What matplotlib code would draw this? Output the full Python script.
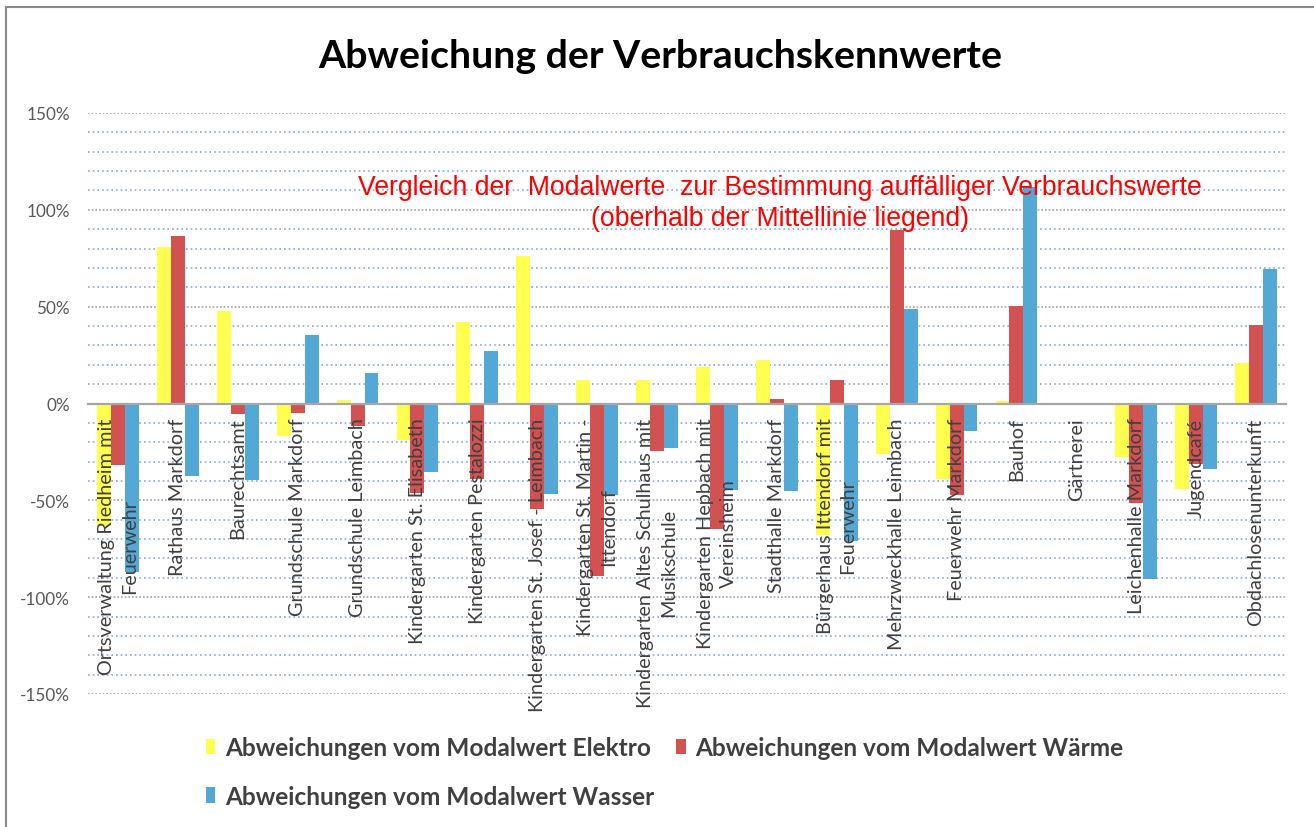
import matplotlib
matplotlib.use("Agg")
import matplotlib.pyplot as plt
import numpy as np
from matplotlib.lines import Line2D
from matplotlib.patches import Patch

categories = [
    "Ortsverwaltung Riedheim mit\nFeuerwehr",
    "Rathaus Markdorf",
    "Baurechtsamt",
    "Grundschule Markdorf",
    "Grundschule Leimbach",
    "Kindergarten St. Elisabeth",
    "Kindergarten Pestalozzi",
    "Kindergarten St. Josef - Leimbach",
    "Kindergarten St. Martin -\nIttendorf",
    "Kindergarten Altes Schulhaus mit\nMusikschule",
    "Kindergarten Hepbach mit\nVereinsheim",
    "Stadthalle Markdorf",
    "Bürgerhaus Ittendorf mit\nFeuerwehr",
    "Mehrzweckhalle Leimbach",
    "Feuerwehr Markdorf",
    "Bauhof",
    "Gärtnerei",
    "Leichenhalle Markdorf",
    "Jugendcafé",
    "Obdachlosenunterkunft",
]

elektro = [-63, 81, 48, -17, 2, -19, 42, 76, 12, 12, 19, 22.5, -68, -26, -39, 1.5, 0, -27.5, -44, 21]
waerme = [-32, 86.5, -5.5, -5, -11.5, -46, -39, -54.5, -89, -24.5, -65, 2.3, 12, 89.5, -47, 50.5, 0, -51.5, -31, 40.5]
wasser = [-87, -37.5, -39.5, 35.5, 16, -35.5, 27, -46.5, -47, -23, -44.5, -45, -71, 49, -14, 112, 0, -90.5, -34, 69.5]

series_names = [
    "Abweichungen vom Modalwert Elektro",
    "Abweichungen vom Modalwert Wärme",
    "Abweichungen vom Modalwert Wasser",
]
colors = ["#FFFF4F", "#D25252", "#54A8D6"]

W, H = 1314, 828
fig = plt.figure(figsize=(W / 100, H / 100), dpi=100)
fig.patch.set_facecolor("white")

left, right, top, bottom = 88, 1286, 114, 695
ax = fig.add_axes([left / W, (H - bottom) / H, (right - left) / W, (bottom - top) / H])

n = len(categories)
x = np.arange(n)
bw = 0.233
for i, (vals, c) in enumerate(zip([elektro, waerme, wasser], colors)):
    ax.bar(x + (i - 1) * bw, vals, width=bw, color=c, zorder=1, linewidth=0)

ax.set_xlim(-0.5, n - 0.5)
ax.set_ylim(-150, 150)

# grid
for v in range(-150, 151, 10):
    if v == 0:
        continue
    if v % 50 == 0:
        ax.axhline(v, color="#A6A6A6", linestyle=(0, (1, 1.2)), linewidth=1.2, zorder=0.5)
    else:
        ax.axhline(v, color="#8EAADB", linestyle=(0, (1, 1.8)), linewidth=1.2, zorder=0.5)

for s in ["top", "right", "left"]:
    ax.spines[s].set_visible(False)
ax.spines["bottom"].set_position(("data", 0))
ax.spines["bottom"].set_color("#A6A6A6")
ax.spines["bottom"].set_linewidth(1.6)
ax.spines["bottom"].set_zorder(2)

ax.set_yticks(range(-150, 151, 50))
ax.set_yticklabels([f"{v}%" for v in range(-150, 151, 50)], fontfamily="Lato", fontsize=12.3, color="#595959")
ax.tick_params(axis="y", length=0, pad=13)

ax.set_xticks(x)
ax.set_xticklabels(categories, rotation=90, fontfamily="Lato", fontsize=14.3, color="#404040",
                   linespacing=1.4)
for lab in ax.get_xticklabels():
    lab.set_multialignment("center")
ax.xaxis.set_zorder(3)
ax.tick_params(axis="x", length=0, pad=10)

fig.text(660 / W, 1 - 57 / H, "Abweichung der Verbrauchskennwerte", ha="center", va="center",
         fontfamily="Lato", fontweight="bold", fontsize=28.3, color="black")

fig.text(780 / W, 1 - 188 / H, "Vergleich der  Modalwerte  zur Bestimmung auffälliger Verbrauchswerte",
         ha="center", va="center", fontfamily="Liberation Sans", fontsize=19.2, color="red")
fig.text(780 / W, 1 - 219 / H, "(oberhalb der Mittellinie liegend)",
         ha="center", va="center", fontfamily="Liberation Sans", fontsize=19.2, color="red")

handles = [Patch(facecolor=c, edgecolor="none") for c in colors]
order = [0, 2, 1]
leg = fig.legend([handles[i] for i in order], [series_names[i] for i in order],
                 loc="upper left", bbox_to_anchor=(206 / W, 1 - 737 / H), ncol=2, frameon=False,
                 prop={"family": "Lato", "weight": "bold", "size": 17.6},
                 handlelength=0.38, handleheight=0.6, handletextpad=0.4,
                 columnspacing=0.9, labelspacing=1.05, borderpad=0, borderaxespad=0)
for t in leg.get_texts():
    t.set_color("#404040")

# chart frame (left and top edges visible)
fig.add_artist(Line2D([5.5 / W, 5.5 / W], [0, 1 - 7.5 / H], color="#898989", linewidth=1.5))
fig.add_artist(Line2D([5.5 / W, 1], [1 - 7.5 / H, 1 - 7.5 / H], color="#898989", linewidth=1.5))

fig.savefig("out.png", dpi=100, facecolor="white")
